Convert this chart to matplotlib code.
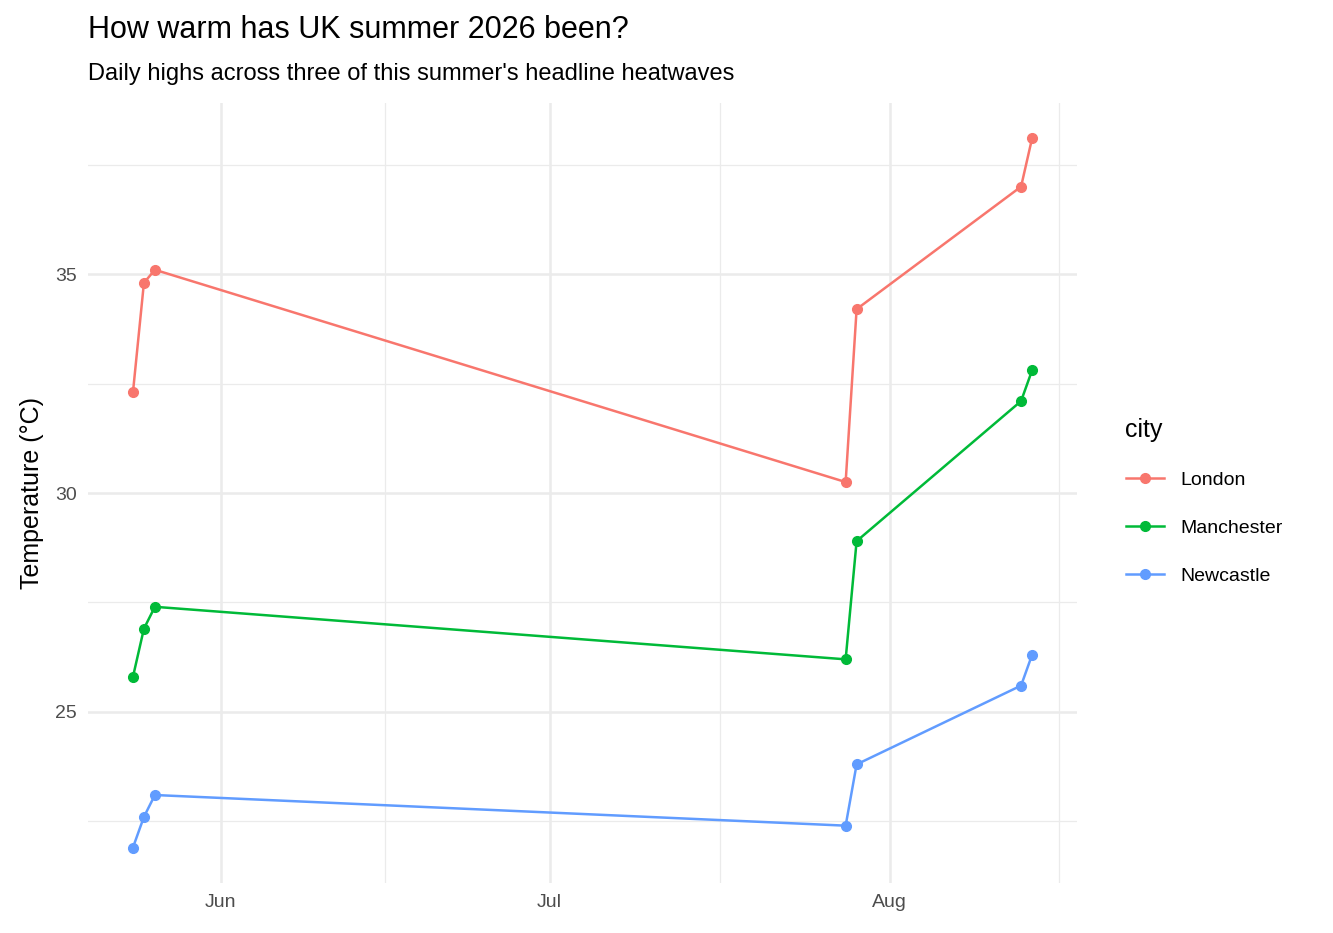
import matplotlib
matplotlib.use("Agg")
import matplotlib.pyplot as plt
import matplotlib.dates as mdates
import datetime as dt

plt.rcParams['font.family'] = ['Liberation Sans', 'DejaVu Sans']

dates = ["2026-05-24","2026-05-25","2026-05-26","2026-07-28","2026-07-29","2026-08-13","2026-08-14"]
london = [32.3, 34.8, 35.1, 30.25, 34.2, 37.0, 38.1]
manchester = [25.8, 26.9, 27.4, 26.2, 28.9, 32.1, 32.8]
newcastle = [21.9, 22.6, 23.1, 22.4, 23.8, 25.6, 26.3]
cities = ["London", "Manchester", "Newcastle"]
colors = ["#F8766D", "#00BA38", "#619CFF"]

x = [dt.datetime.strptime(d, "%Y-%m-%d") for d in dates]
xn = mdates.date2num(x)

fig = plt.figure(figsize=(13.33, 9.33), dpi=100)
ax = fig.add_axes([88/1333, 1-883/933, (1077-88)/1333, (883-103)/933])
for name, vals, c in zip(cities, [london, manchester, newcastle], colors):
    ax.plot(xn, vals, color=c, lw=1.8, marker="o", ms=7, label=name)

xr = xn.max() - xn.min()
ax.set_xlim(xn.min() - 0.05*xr, xn.max() + 0.05*xr)
yall = london + manchester + newcastle
yr = max(yall) - min(yall)
ax.set_ylim(min(yall) - 0.05*yr, max(yall) + 0.05*yr)

major = [mdates.date2num(dt.datetime(2026, m, 1)) for m in (6, 7, 8)]
minor = [mdates.date2num(dt.datetime(2026, 6, 16)), mdates.date2num(dt.datetime(2026, 7, 16, 12)),
         mdates.date2num(dt.datetime(2026, 8, 16, 12))]
ax.set_xticks(major)
ax.set_xticklabels(["Jun", "Jul", "Aug"])
ax.set_xticks(minor, minor=True)
ax.set_yticks([25, 30, 35])
ax.set_yticks([22.5, 27.5, 32.5, 37.5], minor=True)
ax.grid(which="major", color="#EBEBEB", lw=1.8)
ax.grid(which="minor", color="#EBEBEB", lw=0.9)
ax.set_axisbelow(True)
for s in ax.spines.values():
    s.set_visible(False)
ax.tick_params(which="both", length=0, labelsize=14, labelcolor="#4D4D4D", pad=8)
ax.set_ylabel("Temperature (°C)", fontsize=18, labelpad=8)

fig.text(88/1333, 1-30/933, "How warm has UK summer 2026 been?", fontsize=22, va="center")
fig.text(88/1333, 1-74/933, "Daily highs across three of this summer's headline heatwaves", fontsize=17, va="center")

leg = fig.legend(loc="upper left", bbox_to_anchor=(1108/1333, 1-400/933), frameon=False,
                 title="city", fontsize=14, title_fontsize=18, handlelength=2, labelspacing=1.55)
leg._legend_box.align = "left"
fig.savefig("out.png", dpi=100)
